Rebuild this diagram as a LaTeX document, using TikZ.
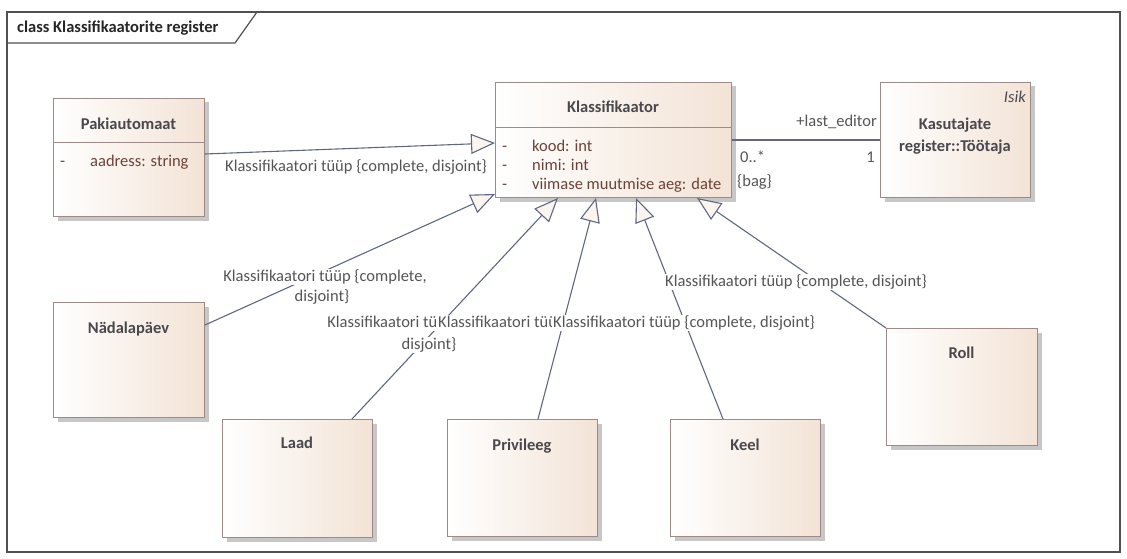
\documentclass[tikz,border=0pt]{standalone}
\usepackage{fontspec}
\setmainfont{Carlito}
\usetikzlibrary{arrows.meta,shadows,positioning}

\newcommand{\diafont}{\fontsize{16.5}{20}\selectfont}

\definecolor{framecol}{RGB}{80,80,80}
\definecolor{boxline}{RGB}{158,138,136}
\definecolor{boxpeach}{RGB}{243,227,214}
\definecolor{connline}{RGB}{95,104,128}
\definecolor{tipfill}{RGB}{251,244,239}
\definecolor{nametext}{RGB}{72,72,78}
\definecolor{attrtext}{RGB}{108,66,56}
\definecolor{labeltext}{RGB}{85,85,85}

\tikzset{
  classbox/.style={draw=boxline, line width=1pt, left color=white, right color=boxpeach,
    anchor=north west, inner sep=0pt,
    drop shadow={shadow xshift=4pt, shadow yshift=-4pt, fill=black!22, opacity=1}},
  classname/.style={font=\diafont\bfseries, text=nametext, anchor=base, inner sep=0pt},
  attr/.style={font=\diafont, text=attrtext, anchor=base west, inner sep=0pt},
  genline/.style={draw=connline, line width=1.1pt,
    -{Triangle[length=24pt, width=20pt, fill=tipfill, line width=1.1pt]}},
  genlabel/.style={font=\diafont, text=labeltext, fill=white, inner sep=1pt},
  assoclabel/.style={font=\diafont, text=labeltext, inner sep=0pt},
}

\begin{document}
\begin{tikzpicture}[x=1pt, y=-1pt]
    \useasboundingbox (0,0) rectangle (1127,559);

    % Frame
    \draw[framecol, line width=1.2pt] (7,12) rectangle (1120,552);
    \draw[framecol, line width=1.2pt] (7,43) -- (235,43) -- (257,12);
    \node[anchor=base west, inner sep=0pt, font=\diafont\bfseries, text=black!85] (title) at (17,33)
        {class Klassifikaatorite register};

    % Classes
    \node[classbox, minimum width=151pt, minimum height=118pt] (pakiautomaat) at (53,98) {};
    \node[classbox, minimum width=236pt, minimum height=115pt] (klass) at (495,82) {};
    \node[classbox, minimum width=150pt, minimum height=115pt] (tootaja) at (880,82) {};
    \node[classbox, minimum width=151pt, minimum height=115pt] (nadalapaev) at (53,302) {};
    \node[classbox, minimum width=150pt, minimum height=118pt] (laad) at (222,419) {};
    \node[classbox, minimum width=150pt, minimum height=117pt] (privileeg) at (447,419) {};
    \node[classbox, minimum width=150pt, minimum height=117pt] (keel) at (670,419) {};
    \node[classbox, minimum width=151pt, minimum height=117pt] (roll) at (886,328) {};

    % Compartment lines
    \draw[boxline, line width=1pt] ([yshift=-45pt]pakiautomaat.north west) -- ([yshift=-45pt]pakiautomaat.north east);
    \draw[boxline, line width=1pt] ([yshift=-46pt]klass.north west) -- ([yshift=-46pt]klass.north east);

    % Class names
    \node[classname] (pakiname) at (128.5,130) {Pakiautomaat};
    \node[classname] (klassname) at (613,113) {Klassifikaator};
    \node[classname] (tootajaname1) at (955,130) {Kasutajate};
    \node[classname] (tootajaname2) at (955,152) {register::Töötaja};
    \node[anchor=base east, inner sep=0pt, font=\diafont\itshape, text=nametext] (isik) at (1026,103) {Isik};
    \node[classname] (nadalaname) at (128.5,333) {Nädalapäev};
    \node[classname] (laadname) at (297,448) {Laad};
    \node[classname] (privname) at (522,450) {Privileeg};
    \node[classname] (keelname) at (745,450) {Keel};
    \node[classname] (rollname) at (961.5,358) {Roll};

    % Attributes
    \node[attr] (pakidash) at (60,167) {-};
    \node[attr] (aadress) at (90,167) {aadress: string};
    \node[attr] (kooddash) at (502,151) {-};
    \node[attr] (kood) at (532,151) {kood: int};
    \node[attr] (nimidash) at (502,170) {-};
    \node[attr] (nimi) at (532,170) {nimi: int};
    \node[attr] (aegdash) at (502,189) {-};
    \node[attr] (aeg) at (532,189) {viimase muutmise aeg: date};

    % Association
    \draw[connline, line width=1.1pt] (klass.east) -- (tootaja.west);
    \node[assoclabel, anchor=base east] (role) at (877,127) {+last\_editor};
    \node[assoclabel, anchor=base east] (multone) at (875,163) {1};
    \node[assoclabel, anchor=base west] (multmany) at (740,163) {0..*};
    \node[assoclabel, anchor=base west] (bag) at (737,186) {\{bag\}};

    % Generalizations
    \draw[genline] ([yshift=-56pt]pakiautomaat.north east) -- ([yshift=-61pt]klass.north west);
    \draw[genline] ([yshift=-23pt]nadalapaev.north east) -- ([yshift=4pt]klass.south west);
    \draw[genline] ([xshift=130pt]laad.north west) -- ([xshift=63pt]klass.south west);
    \draw[genline] ([xshift=91pt]privileeg.north west) -- ([xshift=101pt]klass.south west);
    \draw[genline] ([xshift=53pt]keel.north west) -- ([xshift=141pt]klass.south west);
    \draw[genline] (roll.north west) -- ([xshift=202pt]klass.south west);

    % Generalization labels
    \node[genlabel] (pakilabel) at (356,167) {Klassifikaatori tüüp \{complete, disjoint\}};
    \node[genlabel] (nadalalabel) at (325,277) {Klassifikaatori tüüp \{complete,};
    \node[genlabel] (nadalalabel2) at (322,297) {disjoint\}};
    \node[genlabel] (laadlabel) at (429,323) {Klassifikaatori tüüp \{complete,};
    \node[genlabel] (laadlabel2) at (429,345) {disjoint\}};
    \node[genlabel, anchor=west] (privlabel) at (437,323) {Klassifikaatori tüüp \{complete, disjoint\}};
    \node[genlabel, anchor=west] (keellabel) at (552,323) {Klassifikaatori tüüp \{complete, disjoint\}};
    \node[genlabel] (rolllabel) at (796,282) {Klassifikaatori tüüp \{complete, disjoint\}};

\end{tikzpicture}
\end{document}
